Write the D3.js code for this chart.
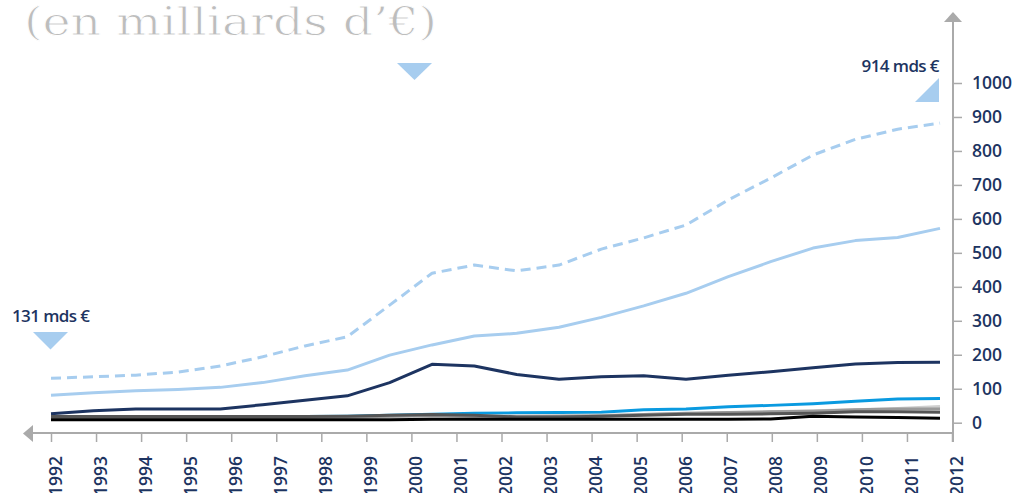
<!DOCTYPE html>
<html>
<head>
<meta charset="utf-8">
<script src="https://cdn.jsdelivr.net/npm/d3@7"></script>
<style>
  html, body { margin: 0; padding: 0; background: #fff; overflow: hidden; }
  svg { display: block; }
</style>
</head>
<body>
<svg id="chart" width="1025" height="493"></svg>
<script>
// tick labels
var years = d3.range(1992, 2013)
var yTicks = [0, 100, 200, 300, 400, 500, 600, 700, 800, 900, 1000]

// 22 observations between 1992 and end of 2011
var obs = d3.range(22)

var total = [131, 135, 140, 149, 167, 194, 226, 253, 346, 440, 464, 447, 464, 511, 544, 582, 656, 720, 788, 834, 864, 882]
var lightBlue = [81, 88, 94, 98, 104, 118, 138, 155, 199, 229, 255, 263, 281, 310, 344, 381, 430, 474, 514, 536, 545, 572]
var navy = [26, 35, 40, 40, 40, 53, 66, 79, 118, 172, 167, 142, 128, 135, 138, 128, 140, 150, 162, 173, 177, 178]
var brightBlue = [18, 18, 18, 18, 18, 18, 18, 19, 22, 25, 28, 29, 30, 31, 38, 40, 47, 51, 56, 63, 70, 71]
var lightGrey = [12, 12, 12, 13, 13, 14, 15, 16, 18, 20, 20, 20, 21, 22, 24, 26, 29, 32, 35, 38, 42, 48]
var midGrey = [14, 14, 14, 14, 15, 15, 16, 17, 19, 21, 18, 17, 18, 20, 24, 28, 30, 32, 34, 38, 40, 40]
var darkGrey = [18, 18, 18, 18, 18, 18, 18, 19, 22, 24, 22, 17, 17, 19, 22, 25, 25, 26, 28, 32, 32, 31]
var black = [9, 9, 9, 9, 9, 9, 9, 9, 9, 10, 10, 10, 10, 10, 10, 10, 10, 11, 19, 17, 15, 13]

var series = [
    {values: total, color: "#a7cdef", dash: "10,6"},
    {values: lightBlue, color: "#a7cdef"},
    {values: navy, color: "#1d3461"},
    {values: brightBlue, color: "#0a9ae0"},
    {values: lightGrey, color: "#cfcfcf"},
    {values: midGrey, color: "#9a9a9a"},
    {values: darkGrey, color: "#555555"},
    {values: black, color: "#000000"}
]

var navyText = "#1d3461"
var axisGrey = "#aaaaaa"
var labelFont = "'Open Sans', sans-serif"

var svg = d3.select("#chart")

var x = d3.scaleLinear().domain([1992, 2012]).range([51, 952])
var xp = d3.scalePoint().domain(obs).range([51, 940])
var y = d3.scaleLinear().domain([0, 1000]).range([422.7, 83])

// title (light slab look: thin the glyphs a little with a white stroke)
svg.append("text")
    .attr("x", 24)
    .attr("y", 35)
    .attr("textLength", 413)
    .attr("lengthAdjust", "spacingAndGlyphs")
    .style("font-family", "'DejaVu Serif', serif")
    .style("font-size", "40px")
    .style("fill", "#bdbdbd")
    .style("stroke", "#fff")
    .style("stroke-width", "0.9px")
    .text("(en milliards d\u2019\u20ac)")

// lines
var line = d3.line()
    .x(function(d, i) { return xp(i) })
    .y(function(d) { return y(d) })

svg.append("g").selectAll("path")
    .data(series)
    .enter()
    .append("path")
    .attr("d", function(d) { return line(d.values) })
    .attr("fill", "none")
    .attr("stroke", function(d) { return d.color })
    .attr("stroke-width", 3)
    .attr("stroke-dasharray", function(d) { return d.dash || null })
    .attr("stroke-linejoin", "round")

// y axis
var yAxis = svg.append("g")
    .attr("transform", "translate(953,0)")
    .call(d3.axisRight(y).tickValues(yTicks).tickFormat(d3.format("d")).tickSize(9).tickPadding(10))
yAxis.select(".domain").remove()
yAxis.selectAll(".tick line").attr("stroke", axisGrey).attr("stroke-width", 1.5)
yAxis.selectAll(".tick text")
    .style("font-family", labelFont)
    .style("font-size", "17.5px")
    .style("font-weight", 600)
    .attr("fill", navyText)

svg.append("line")
    .attr("x1", 953).attr("x2", 953)
    .attr("y1", 20).attr("y2", 442)
    .attr("stroke", axisGrey).attr("stroke-width", 2)
svg.append("path")
    .attr("d", "M944,22L962,22L953,12Z")
    .attr("fill", axisGrey)

// x axis
var xAxis = svg.append("g")
    .attr("transform", "translate(0,433)")
    .call(d3.axisBottom(x).tickValues(years).tickFormat(d3.format("d")).tickSize(9).tickSizeOuter(0))
xAxis.select(".domain").remove()
xAxis.selectAll(".tick line").attr("stroke", axisGrey).attr("stroke-width", 1.5)
xAxis.selectAll(".tick text")
    .attr("transform", "translate(4,23) rotate(-90)")
    .attr("x", 0)
    .attr("y", 0)
    .attr("dy", "0.35em")
    .attr("text-anchor", "end")
    .style("font-family", labelFont)
    .style("font-size", "17.5px")
    .style("font-weight", 600)
    .attr("fill", navyText)

svg.append("line")
    .attr("x1", 31).attr("x2", 953)
    .attr("y1", 433).attr("y2", 433)
    .attr("stroke", axisGrey).attr("stroke-width", 2)
svg.append("path")
    .attr("d", "M33,425L33,442L23,433.5Z")
    .attr("fill", axisGrey)

// annotations
var markBlue = "#a7cdef"
svg.append("text")
    .attr("x", 12).attr("y", 322)
    .style("font-family", labelFont)
    .style("font-size", "17px")
    .style("font-weight", 600)
    .style("letter-spacing", "-0.6px")
    .attr("fill", navyText)
    .text("131 mds \u20ac")
svg.append("path")
    .attr("d", "M33,332L68,332L50.5,349.5Z")
    .attr("fill", markBlue)

svg.append("text")
    .attr("x", 939).attr("y", 72)
    .attr("text-anchor", "end")
    .style("font-family", labelFont)
    .style("font-size", "17px")
    .style("font-weight", 600)
    .style("letter-spacing", "-0.6px")
    .attr("fill", navyText)
    .text("914 mds \u20ac")
svg.append("path")
    .attr("d", "M915,102L939,78L939,102Z")
    .attr("fill", markBlue)

svg.append("path")
    .attr("d", "M397,63L432,63L414.5,80Z")
    .attr("fill", markBlue)
</script>
</body>
</html>
